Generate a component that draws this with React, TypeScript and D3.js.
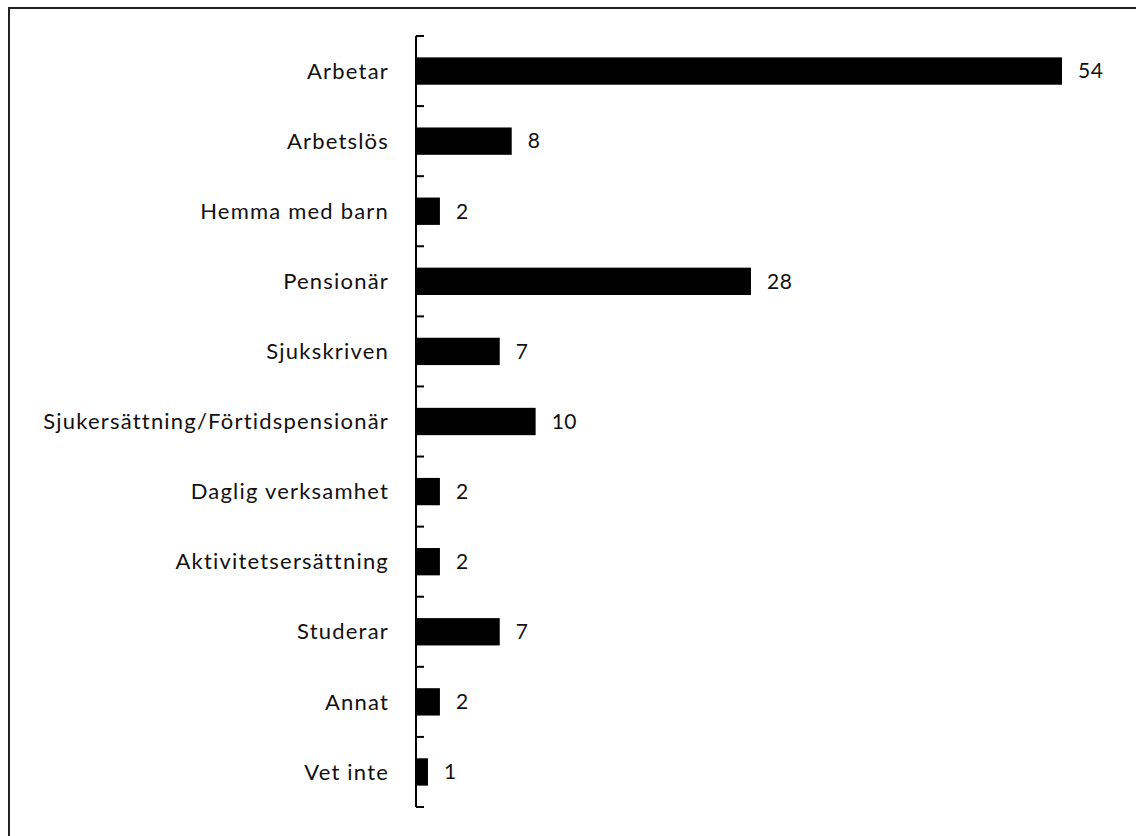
import React from "react";
import * as d3 from "d3";

const categories = [
  "Arbetar",
  "Arbetslös",
  "Hemma med barn",
  "Pensionär",
  "Sjukskriven",
  "Sjukersättning/Förtidspensionär",
  "Daglig verksamhet",
  "Aktivitetsersättning",
  "Studerar",
  "Annat",
  "Vet inte",
];
const values = [54, 8, 2, 28, 7, 10, 2, 2, 7, 2, 1];

const W = 1136;
const H = 836;
const axisX = 416;
const top = 36;
const bottom = 807;

export default function App() {
  const x = d3.scaleLinear().domain([0, 54]).range([axisX, 1062]);
  const y = d3
    .scaleBand<string>()
    .domain(categories)
    .range([top, bottom])
    .paddingInner(0.61)
    .paddingOuter(0.305);
  const step = (bottom - top) / categories.length;
  const ticks = d3.range(categories.length + 1).map((i) => top + i * step);
  const font = "Lato, 'Open Sans', sans-serif";
  return (
    <svg
      width={W}
      height={H}
      style={{ position: "absolute", left: 0, top: 0, background: "#fff" }}
    >
      <line x1={8} x2={W} y1={8} y2={8} stroke="#222" strokeWidth={2} />
      <line x1={9} x2={9} y1={7} y2={H} stroke="#222" strokeWidth={2} />
      {categories.map((c, i) => (
        <g key={c}>
          <rect
            x={x(0)}
            y={y(c)}
            width={x(values[i]) - x(0)}
            height={y.bandwidth()}
            fill="#000"
          />
          <text
            x={389}
            y={(y(c) as number) + y.bandwidth() / 2}
            dy="0.35em"
            textAnchor="end"
            fontFamily={font}
            fontSize={22}
            letterSpacing={1.2}
            fill="#111"
          >
            {c}
          </text>
          <text
            x={x(values[i]) + 16}
            y={(y(c) as number) + y.bandwidth() / 2}
            dy="0.35em"
            textAnchor="start"
            fontFamily={font}
            fontSize={21}
            letterSpacing={0.5}
            fill="#111"
          >
            {values[i]}
          </text>
        </g>
      ))}
      <line x1={axisX} x2={axisX} y1={top} y2={bottom} stroke="#000" strokeWidth={2} />
      {ticks.map((t, i) => (
        <line key={i} x1={axisX} x2={axisX + 8} y1={t} y2={t} stroke="#000" strokeWidth={2} />
      ))}
    </svg>
  );
}
